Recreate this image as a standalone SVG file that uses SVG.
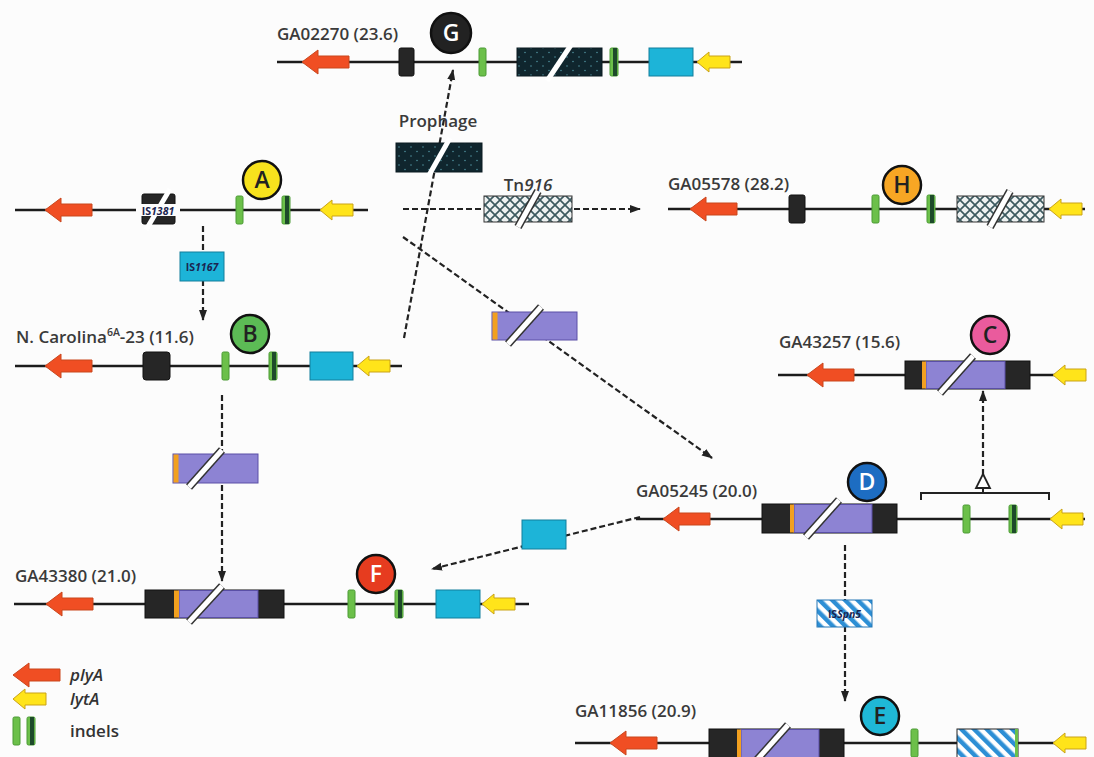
<svg xmlns="http://www.w3.org/2000/svg" width="1094" height="757" viewBox="0 0 1094 757">
<style>
.bb{fill:#fcfcfc}
.ln{stroke:#1c1c1c;stroke-width:2.6;fill:none}
.dash{stroke:#222;stroke-width:2.2;stroke-dasharray:6 3;fill:none}
.red{fill:#f04e23;stroke:#c9461d;stroke-width:1}
.yel{fill:#ffe41a;stroke:#caa316;stroke-width:1}
.blk{fill:#262626;stroke:#111;stroke-width:1}
.grn{fill:#6cc04a;stroke:#4b9a34;stroke-width:1}
.dgr{fill:#1d4a2a}
.cya{fill:#1db4d8;stroke:#137e9c;stroke-width:1}
.pur{fill:#8d83d3;stroke:#5a4fa6;stroke-width:1}
.org{fill:#f2a01f}
.lbl{font-family:"Open Sans","Liberation Sans",sans-serif;font-weight:600;font-size:17px;fill:#3a3a3a}
.cl{font-family:"Open Sans","Liberation Sans",sans-serif;font-weight:600;font-size:23px;text-anchor:middle}
.circ{stroke:#111;stroke-width:2.5}
.is{font-family:"Open Sans","Liberation Sans",sans-serif;font-weight:700;font-size:10.5px;fill:#1b2550;text-anchor:middle}
.sl1{stroke:#333;stroke-width:8}
.sl2{stroke:#fff;stroke-width:5}
.leg{font-family:"Open Sans","Liberation Sans",sans-serif;font-weight:600;font-size:17px;fill:#333}
</style>
<defs>
<path id="ra" d="M0,0 L16,-12 L16,-6 L47,-6 L47,6 L16,6 L16,12 Z"/>
<path id="ya" d="M0,0 L12,-10 L12,-6 L33,-6 L33,6 L12,6 L12,10 Z"/>
<g id="ind"><rect x="0" y="-14" width="7" height="28" rx="1.5" class="grn"/></g>
<g id="dind"><rect x="0" y="-14" width="8" height="28" rx="1.5" class="grn"/><rect x="3" y="-14" width="4" height="28" class="dgr"/></g>
<pattern id="dots" width="12" height="9" patternUnits="userSpaceOnUse">
<rect width="12" height="9" fill="#10262e"/>
<circle cx="3" cy="3" r="0.8" fill="#4d8d99"/>
<circle cx="9" cy="7.5" r="0.8" fill="#4d8d99"/>
</pattern>
<pattern id="hatch" width="10" height="10" patternUnits="userSpaceOnUse">
<rect width="10" height="10" fill="#eef2f2"/>
<path d="M0,0 L10,10 M10,0 L0,10" stroke="#3d5a60" stroke-width="1.7"/>
</pattern>
<pattern id="stripes" width="9" height="9" patternUnits="userSpaceOnUse" patternTransform="rotate(-45)">
<rect width="9" height="9" fill="#fff"/>
<rect width="4.5" height="9" fill="#2d8fd5"/>
</pattern>
<marker id="ah" markerWidth="11" markerHeight="10" refX="10" refY="5" orient="auto" markerUnits="userSpaceOnUse">
<path d="M0,1 L11,5 L0,9 Z" fill="#222"/>
</marker>
</defs>
<rect class="bb" x="0" y="0" width="1094" height="757"/>

<g id="connectors">
<line class="dash" x1="203" y1="226" x2="203" y2="320" marker-end="url(#ah)"/>
<line class="dash" x1="404" y1="338" x2="453" y2="70" marker-end="url(#ah)"/>
<line class="dash" x1="403" y1="209" x2="640" y2="209" marker-end="url(#ah)"/>
<line class="dash" x1="403" y1="237" x2="712" y2="458" marker-end="url(#ah)"/>
<line class="dash" x1="222" y1="395" x2="222" y2="581" marker-end="url(#ah)"/>
<line class="dash" x1="640" y1="517" x2="432" y2="569" marker-end="url(#ah)"/>
<line class="dash" x1="845" y1="545" x2="845" y2="701" marker-end="url(#ah)"/>
<line class="dash" x1="983" y1="475" x2="983" y2="391" marker-end="url(#ah)"/>
<path d="M921,500 L921,493 L1049,493 L1049,500 M983,493 L983,488" stroke="#222" stroke-width="2" fill="none"/>
<path d="M983,474 L990,488 L976,488 Z" fill="#fff" stroke="#222" stroke-width="1.8"/>
</g>

<g id="IS1167">
<rect x="180" y="252" width="44" height="29" class="cya"/>
<text x="202" y="270.5" class="is">IS<tspan font-style="italic">1167</tspan></text>
</g>
<g id="prophage">
<text x="438" y="127" class="lbl" text-anchor="middle">Prophage</text>
<rect x="396" y="143" width="86" height="29" fill="url(#dots)" stroke="#0a1a20"/>
<line x1="428" y1="177" x2="450" y2="138" class="sl2"/>
</g>
<g id="Tn916">
<text x="528" y="191" class="lbl" text-anchor="middle">Tn<tspan font-style="italic">916</tspan></text>
<rect x="484" y="196" width="88" height="26" fill="url(#hatch)" stroke="#333"/>
<line x1="518" y1="227" x2="538" y2="191" class="sl1"/>
<line x1="518" y1="227" x2="538" y2="191" class="sl2"/>
</g>
<g id="purple-mid">
<rect x="492" y="312" width="85" height="28" class="pur"/>
<rect x="492.5" y="312.5" width="5" height="27" class="org"/>
<line x1="508" y1="344" x2="541" y2="307" class="sl1"/>
<line x1="508" y1="344" x2="541" y2="307" class="sl2"/>
</g>
<g id="purple-BF">
<rect x="173" y="454" width="85" height="29" class="pur"/>
<rect x="173.5" y="454.5" width="5" height="28" class="org"/>
<line x1="189" y1="487" x2="222" y2="450" class="sl1"/>
<line x1="189" y1="487" x2="222" y2="450" class="sl2"/>
</g>
<g id="cyan-DF">
<rect x="522" y="520" width="44" height="29" class="cya"/>
</g>
<g id="ISSpn5">
<rect x="817" y="600" width="55" height="27" fill="url(#stripes)" stroke="#2577b5"/>
<text x="844.5" y="617.5" class="is">IS<tspan font-style="italic">Spn5</tspan></text>
</g>

<g id="rowG">
<text x="277" y="40" class="lbl">GA02270 (23.6)</text>
<line x1="277" y1="62" x2="742" y2="62" class="ln"/>
<use href="#ra" x="302" y="62" class="red"/>
<rect x="399" y="48" width="15" height="28" rx="2" class="blk"/>
<use href="#ind" x="479" y="62"/>
<rect x="517" y="48" width="85" height="28" fill="url(#dots)" stroke="#0a1a20"/>
<line x1="547" y1="81" x2="573" y2="42" class="sl2"/>
<use href="#dind" x="610" y="62"/>
<rect x="649" y="48" width="44" height="28" class="cya"/>
<use href="#ya" x="697" y="62" class="yel"/>
<circle cx="451" cy="33" r="20" fill="#222" class="circ"/>
<text x="451" y="41" class="cl" fill="#fff">G</text>
</g>

<g id="rowA">
<line x1="15" y1="210" x2="368" y2="210" class="ln"/>
<use href="#ra" x="45" y="210" class="red"/>
<rect x="142" y="194" width="33" height="30" rx="2" class="blk"/>
<line x1="146" y1="230" x2="170" y2="189" class="sl2"/>
<rect x="136" y="204" width="44" height="12" fill="#fcfcfc"/>
<text x="158" y="214.5" class="is" fill="#2a2a3a">IS<tspan font-style="italic">1381</tspan></text>
<use href="#ind" x="236" y="210"/>
<use href="#dind" x="282" y="210"/>
<use href="#ya" x="320" y="210" class="yel"/>
<circle cx="262" cy="180" r="19" fill="#f7e21d" class="circ"/>
<text x="262" y="188" class="cl" fill="#222">A</text>
</g>

<g id="rowB">
<text x="16" y="343" class="lbl">N. Carolina<tspan font-size="10.5" dy="-7">6A</tspan><tspan dy="7">-23 (11.6)</tspan></text>
<line x1="15" y1="366" x2="402" y2="366" class="ln"/>
<use href="#ra" x="45" y="366" class="red"/>
<rect x="143" y="352" width="27" height="28" rx="3" class="blk"/>
<use href="#ind" x="222" y="366"/>
<use href="#dind" x="269" y="366"/>
<rect x="310" y="352" width="43" height="28" class="cya"/>
<use href="#ya" x="357" y="366" class="yel"/>
<circle cx="250" cy="334" r="19" fill="#5cbb55" class="circ"/>
<text x="250" y="342" class="cl" fill="#222">B</text>
</g>

<g id="rowH">
<text x="668" y="190" class="lbl">GA05578 (28.2)</text>
<line x1="668" y1="209" x2="1085" y2="209" class="ln"/>
<use href="#ra" x="690" y="209" class="red"/>
<rect x="789" y="195" width="16" height="28" rx="2" class="blk"/>
<use href="#ind" x="872" y="209"/>
<use href="#dind" x="927" y="209"/>
<rect x="957" y="196" width="87" height="26" fill="url(#hatch)" stroke="#333"/>
<line x1="990" y1="227" x2="1010" y2="191" class="sl1"/>
<line x1="990" y1="227" x2="1010" y2="191" class="sl2"/>
<use href="#ya" x="1049" y="209" class="yel"/>
<circle cx="902" cy="185" r="19" fill="#f7a624" class="circ"/>
<text x="902" y="193" class="cl" fill="#222">H</text>
</g>

<g id="rowC">
<text x="779" y="348" class="lbl">GA43257 (15.6)</text>
<line x1="778" y1="375" x2="1085" y2="375" class="ln"/>
<use href="#ra" x="807" y="375" class="red"/>
<rect x="905" y="361" width="125" height="28" class="blk"/>
<rect x="926" y="361.5" width="79" height="27" class="pur"/>
<rect x="922" y="361.5" width="4" height="27" class="org"/>
<line x1="940" y1="393" x2="973" y2="356" class="sl1"/>
<line x1="940" y1="393" x2="973" y2="356" class="sl2"/>
<use href="#ya" x="1053" y="375" class="yel"/>
<circle cx="990" cy="335" r="19" fill="#ea5b9d" class="circ"/>
<text x="990" y="343" class="cl" fill="#222">C</text>
</g>

<g id="rowD">
<text x="636" y="497" class="lbl">GA05245 (20.0)</text>
<line x1="636" y1="519" x2="1085" y2="519" class="ln"/>
<use href="#ra" x="663" y="519" class="red"/>
<rect x="762" y="504" width="135" height="29" class="blk"/>
<rect x="794" y="504.5" width="78" height="28" class="pur"/>
<rect x="790" y="504.5" width="4" height="28" class="org"/>
<line x1="806" y1="537" x2="839" y2="500" class="sl1"/>
<line x1="806" y1="537" x2="839" y2="500" class="sl2"/>
<use href="#ind" x="963" y="519"/>
<use href="#dind" x="1009" y="519"/>
<use href="#ya" x="1050" y="519" class="yel"/>
<circle cx="867" cy="482" r="19" fill="#1d6dc2" class="circ"/>
<text x="867" y="490" class="cl" fill="#fff">D</text>
</g>

<g id="rowF">
<text x="15" y="582" class="lbl">GA43380 (21.0)</text>
<line x1="14" y1="604" x2="529" y2="604" class="ln"/>
<use href="#ra" x="46" y="604" class="red"/>
<rect x="145" y="590" width="139" height="28" class="blk"/>
<rect x="179" y="590.5" width="79" height="27" class="pur"/>
<rect x="174" y="590.5" width="5" height="27" class="org"/>
<line x1="189" y1="622" x2="222" y2="586" class="sl1"/>
<line x1="189" y1="622" x2="222" y2="586" class="sl2"/>
<use href="#ind" x="348" y="604"/>
<use href="#dind" x="395" y="604"/>
<rect x="436" y="590" width="44" height="28" class="cya"/>
<use href="#ya" x="482" y="604" class="yel"/>
<circle cx="376" cy="574" r="19" fill="#e63c1f" class="circ"/>
<text x="376" y="582" class="cl" fill="#fff">F</text>
</g>

<g id="rowE">
<text x="575" y="717" class="lbl">GA11856 (20.9)</text>
<line x1="575" y1="743" x2="1085" y2="743" class="ln"/>
<use href="#ra" x="610" y="743" class="red"/>
<rect x="709" y="729" width="135" height="29" class="blk"/>
<rect x="741" y="729.5" width="78" height="28" class="pur"/>
<rect x="737" y="729.5" width="4" height="28" class="org"/>
<line x1="755" y1="762" x2="788" y2="725" class="sl1"/>
<line x1="755" y1="762" x2="788" y2="725" class="sl2"/>
<use href="#ind" x="911" y="743"/>
<rect x="957" y="729" width="61" height="29" fill="url(#stripes)" stroke="#222"/>
<rect x="1015" y="729" width="3" height="29" fill="#6cc04a"/>
<use href="#ya" x="1053" y="743" class="yel"/>
<circle cx="880" cy="716" r="19" fill="#1fb8d6" class="circ"/>
<text x="880" y="724" class="cl" fill="#222">E</text>
</g>

<g id="legend">
<use href="#ra" x="13" y="675" class="red"/>
<text x="70" y="681" class="leg" font-style="italic">plyA</text>
<use href="#ya" x="13" y="699" class="yel"/>
<text x="70" y="705" class="leg" font-style="italic">lytA</text>
<use href="#ind" x="13" y="731"/>
<use href="#dind" x="27" y="731"/>
<text x="70" y="737" class="leg">indels</text>
</g>
</svg>
